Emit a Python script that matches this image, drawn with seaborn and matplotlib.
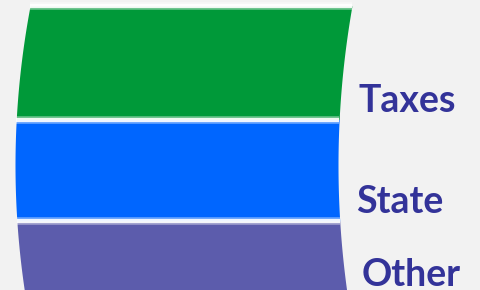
import numpy as np
import matplotlib
matplotlib.use("Agg")
import matplotlib.pyplot as plt
import seaborn as sns

# Data (band sizes, top to bottom)
categories = ["Taxes", "State", "Other"]
values = [113.5, 101.5, 73.5]
colors = ["#009939", "#0066ff", "#5c5cac"]
label_color = "#333399"

sns.set_style("white")
plt.rcParams['font.family'] = ['Lato', 'DejaVu Sans']

fig = plt.figure(figsize=(4.8, 2.9), dpi=100, facecolor="#f2f2f2")
ax = fig.add_axes([0, 0, 1, 1])
ax.set_facecolor("#f2f2f2")
ax.set_xlim(0, 480)
ax.set_ylim(290, 0)
ax.axis("off")

top0 = 6
yc = 165

def left_edge(y):
    return 15 + 0.000593 * (y - yc) ** 2

def right_edge(y):
    return 338 + 0.00055 * (y - yc) ** 2

starts = top0 + np.concatenate([[0], np.cumsum(values)[:-1]])
ends = top0 + np.cumsum(values)

for cat, v, s, e, c in zip(categories, values, starts, ends, colors):
    yy = np.linspace(s, e, 200)
    ax.fill_betweenx(yy, left_edge(yy), right_edge(yy), color=c, lw=0, zorder=1)
    # soft white border on top
    xs = np.array([left_edge(s), right_edge(s)])
    ax.plot(xs, [s, s], color="white", lw=5.5, alpha=0.4, zorder=2, solid_capstyle="butt")
    ax.plot(xs, [s, s], color="white", lw=3.0, alpha=0.9, zorder=3, solid_capstyle="butt")
    base = e - 8
    ax.text(right_edge(base - 14) + 17.5, base, cat, color=label_color, fontsize=27,
            fontweight="bold", ha="left", va="baseline", zorder=4)

fig.savefig("out.png", dpi=100, facecolor=fig.get_facecolor())
